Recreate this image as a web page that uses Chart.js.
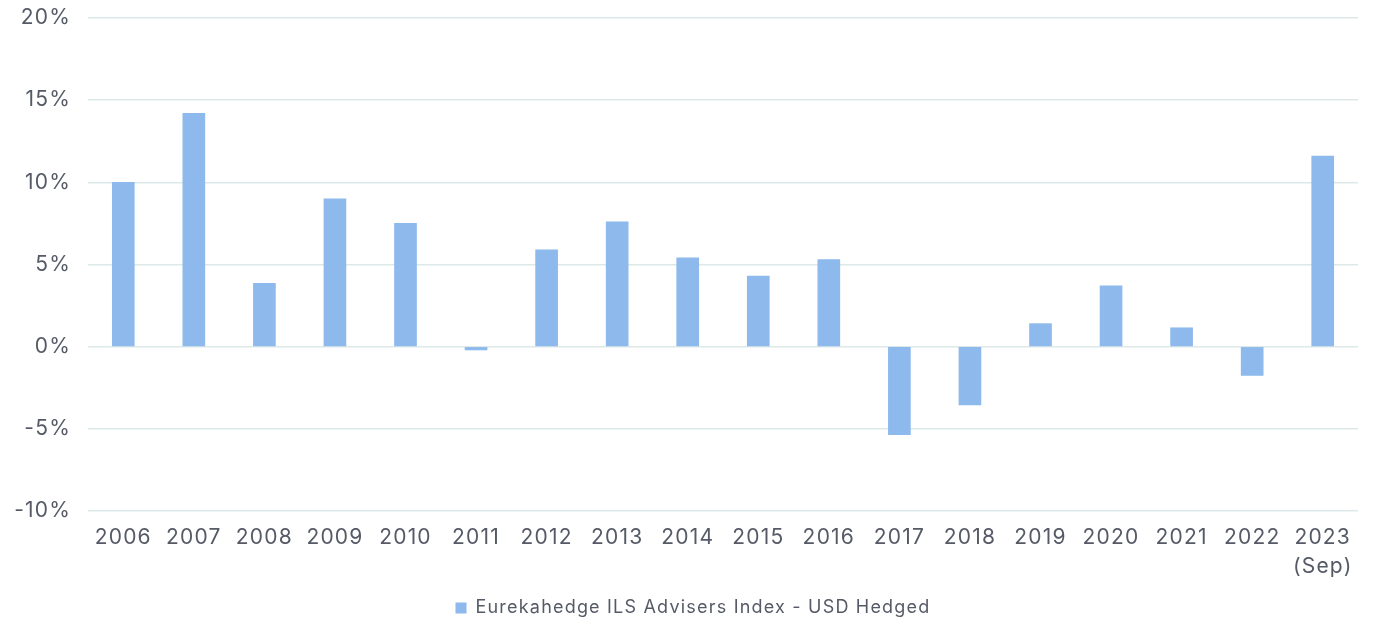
<!DOCTYPE html>
<html>
<head>
<meta charset="utf-8">
<script src="https://cdn.jsdelivr.net/npm/chart.js@4"></script>
<style>
  html, body { margin: 0; padding: 0; background: #fff; }
  #wrap { width: 1380px; height: 619px; }
</style>
</head>
<body>
<div id="wrap"><canvas id="chart"></canvas></div>
<script>
"use strict";

const YEARS = ['2006', '2007', '2008', '2009', '2010', '2011', '2012', '2013', '2014',
  '2015', '2016', '2017', '2018', '2019', '2020', '2021', '2022', ['2023', '(Sep)']];
const RETURNS = [10.0, 14.2, 3.85, 9.0, 7.5, -0.2, 5.9, 7.6, 5.4,
  4.3, 5.3, -5.35, -3.55, 1.4, 3.7, 1.15, -1.75, 11.6];
const SERIES_NAME = 'Eurekahedge ILS Advisers Index - USD Hedged';

(() => {
  const canvas = document.getElementById('chart');

  Chart.defaults.font.family = 'Inter, Roboto, sans-serif';
  Chart.defaults.color = '#555a66';

  // the original typeface is wider / more tracked than Inter
  const tracking = {
    id: 'tracking',
    beforeLayout: (chart) => { chart.ctx.letterSpacing = '1.2px'; },
    beforeDraw: (chart) => { chart.ctx.letterSpacing = '1.2px'; }
  };

  const config = {
    type: 'bar',
    data: {
      labels: YEARS,
      datasets: [{
        label: SERIES_NAME,
        data: RETURNS,
        backgroundColor: '#8db9ec',
        borderWidth: 0,
        barThickness: 22
      }]
    },
    options: {
      responsive: true,
      maintainAspectRatio: false,
      animation: false,
      layout: { padding: { left: 6, right: 0, top: 18, bottom: -8 } },
      plugins: {
        legend: {
          position: 'bottom',
          labels: {
            boxWidth: 11,
            boxHeight: 11,
            padding: 10,
            font: { size: 18 },
            color: '#555a66'
          }
        },
        tooltip: { enabled: false }
      },
      scales: {
        x: {
          grid: { display: false, drawTicks: false },
          border: { display: false },
          ticks: {
            font: { size: 21, lineHeight: 1.4 },
            maxRotation: 0,
            autoSkip: false,
            padding: 12
          },
          afterFit: (scale) => {
            scale.height = 78;
            scale.paddingRight = 22;
          }
        },
        y: {
          min: -10,
          max: 20,
          grid: { color: '#dde8e8', lineWidth: 1.5, drawTicks: false },
          border: { display: false },
          ticks: {
            stepSize: 5,
            padding: 17,
            font: { size: 21 },
            callback: (v) => v + '%'
          },
          afterFit: (scale) => {
            scale.width = 82;
            scale.paddingTop = 0;
            scale.paddingBottom = 0;
          }
        }
      }
    },
    plugins: [tracking]
  };

  new Chart(canvas, config);
})();
</script>
</body>
</html>
